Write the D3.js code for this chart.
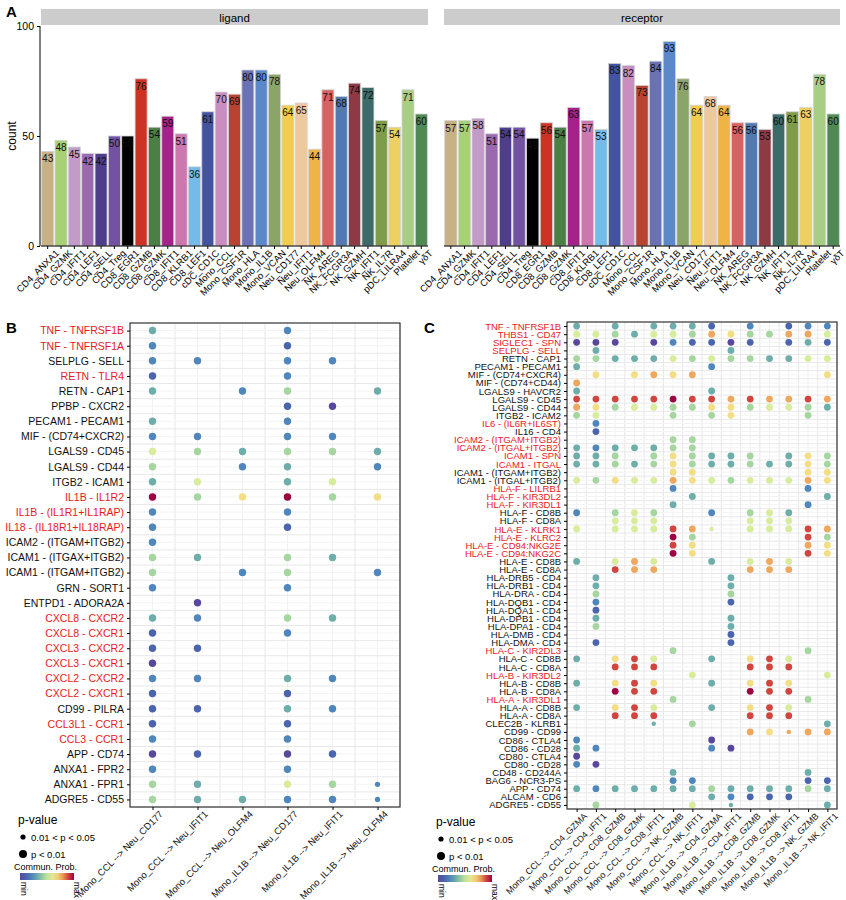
<html>
<head>
<script src="https://cdn.jsdelivr.net/npm/d3@7"></script>
<style>
  body { margin: 0; background: #fff; }
  text { font-family: "Liberation Sans", Arial, sans-serif; }
</style>
</head>
<body>
<script>
// ---------- data ----------
const cellTypes = ["CD4_ANXA1","CD4_GZMK","CD4_IFIT1","CD4_LEF1","CD4_SELL","CD4_Treg","CD8_EGR1","CD8_GZMB","CD8_GZMK","CD8_IFIT1","CD8_KLRB1","CD8_LEF1","cDC_CD1C","Mono_CCL","Mono_CSF1R","Mono_HLA","Mono_IL1B","Mono_VCAN","Neu_CD177","Neu_IFIT1","Neu_OLFM4","NK_AREG","NK_FCGR3A","NK_GZMH","NK_IFIT1","NK_IL7R","pDC_LILRA4","Platelet","γδT"];
const cellColors = ["#c8b185","#a8d175","#c39bc8","#9b6aae","#4e3d8a","#7353a1","#000000","#cc3325","#4a8045","#a5228a","#cc77ae","#74bbea","#4453a0","#c98ebf","#b94332","#6a72b5","#5a88c8","#8ba468","#f2cc4c","#efc99e","#eeb445","#d86262","#5479b0","#8d3a44","#3d6b6a","#7f9c4a","#ecd062","#a8cd84","#4f8a55"];
const ligandCounts = [43,48,45,42,42,50,50,76,54,59,51,36,61,70,69,80,80,78,64,65,44,71,68,74,72,57,54,71,60];
const receptorCounts = [57,57,58,51,54,54,49,56,54,63,57,53,83,82,73,84,93,76,64,68,64,56,56,53,60,61,63,78,60];
const countTicks = [0, 50, 100];

// dot codes: "." none, 0-9 = p<0.01 with prob level, a-j = 0.01<p<0.05 with level
const pairsB = ["Mono_CCL -> Neu_CD177","Mono_CCL -> Neu_IFIT1","Mono_CCL -> Neu_OLFM4","Mono_IL1B -> Neu_CD177","Mono_IL1B -> Neu_IFIT1","Mono_IL1B -> Neu_OLFM4"];
const rowsB = ["TNF - TNFRSF1B","TNF - TNFRSF1A","SELPLG - SELL","RETN - TLR4","RETN - CAP1","PPBP - CXCR2","PECAM1 - PECAM1","MIF - (CD74+CXCR2)","LGALS9 - CD45","LGALS9 - CD44","ITGB2 - ICAM1","IL1B - IL1R2","IL1B - (IL1R1+IL1RAP)","IL18 - (IL18R1+IL18RAP)","ICAM2 - (ITGAM+ITGB2)","ICAM1 - (ITGAX+ITGB2)","ICAM1 - (ITGAM+ITGB2)","GRN - SORT1","ENTPD1 - ADORA2A","CXCL8 - CXCR2","CXCL8 - CXCR1","CXCL3 - CXCR2","CXCL3 - CXCR1","CXCL2 - CXCR2","CXCL2 - CXCR1","CD99 - PILRA","CCL3L1 - CCR1","CCL3 - CCR1","APP - CD74","ANXA1 - FPR2","ANXA1 - FPR1","ADGRE5 - CD55"];
const redB = ["TNF - TNFRSF1B","TNF - TNFRSF1A","RETN - TLR4","IL1B - IL1R2","IL1B - (IL1R1+IL1RAP)","IL18 - (IL18R1+IL18RAP)","CXCL8 - CXCR2","CXCL8 - CXCR1","CXCL3 - CXCR2","CXCL3 - CXCR1","CXCL2 - CXCR2","CXCL2 - CXCR1","CCL3L1 - CCR1","CCL3 - CCR1"];
const dotsB = ["3..2..","2..1..","22.22.","1..2..","3.24.3","...10.","3..2..","22.22.","543443","4.23.2","35.35.","946946","2..2..","2..1..","2.....","43.43.","4.24.2","2..2..",".0....","32.43.","1..2..","11....","0.....","22.32.","1..1..","11.32.","1..1..","2..2..","01.01.","2..2..","43.54c","43322c"];

const pairsC = ["Mono_CCL -> CD4_GZMA","Mono_CCL -> CD4_IFIT1","Mono_CCL -> CD8_GZMB","Mono_CCL -> CD8_GZMK","Mono_CCL -> CD8_IFIT1","Mono_CCL -> NK_GZMB","Mono_CCL -> NK_IFIT1","Mono_IL1B -> CD4_GZMA","Mono_IL1B -> CD4_IFIT1","Mono_IL1B -> CD8_GZMB","Mono_IL1B -> CD8_GZMK","Mono_IL1B -> CD8_IFIT1","Mono_IL1B -> NK_GZMB","Mono_IL1B -> NK_IFIT1"];
const rowsC = ["TNF - TNFRSF1B","THBS1 - CD47","SIGLEC1 - SPN","SELPLG - SELL","RETN - CAP1","PECAM1 - PECAM1","MIF - (CD74+CXCR4)","MIF - (CD74+CD44)","LGALS9 - HAVCR2","LGALS9 - CD45","LGALS9 - CD44","ITGB2 - ICAM2","IL6 - (IL6R+IL6ST)","IL16 - CD4","ICAM2 - (ITGAM+ITGB2)","ICAM2 - (ITGAL+ITGB2)","ICAM1 - SPN","ICAM1 - ITGAL","ICAM1 - (ITGAM+ITGB2)","ICAM1 - (ITGAL+ITGB2)","HLA-F - LILRB1","HLA-F - KIR3DL2","HLA-F - KIR3DL1","HLA-F - CD8B","HLA-F - CD8A","HLA-E - KLRK1","HLA-E - KLRC2","HLA-E - CD94:NKG2E","HLA-E - CD94:NKG2C","HLA-E - CD8B","HLA-E - CD8A","HLA-DRB5 - CD4","HLA-DRB1 - CD4","HLA-DRA - CD4","HLA-DQB1 - CD4","HLA-DQA1 - CD4","HLA-DPB1 - CD4","HLA-DPA1 - CD4","HLA-DMB - CD4","HLA-DMA - CD4","HLA-C - KIR2DL3","HLA-C - CD8B","HLA-C - CD8A","HLA-B - KIR3DL2","HLA-B - CD8B","HLA-B - CD8A","HLA-A - KIR3DL1","HLA-A - CD8B","HLA-A - CD8A","CLEC2B - KLRB1","CD99 - CD99","CD86 - CTLA4","CD86 - CD28","CD80 - CTLA4","CD80 - CD28","CD48 - CD244A","BAG6 - NCR3-PS","APP - CD74","ALCAM - CD6","ADGRE5 - CD55"];
const redC = ["TNF - TNFRSF1B","THBS1 - CD47","SIGLEC1 - SPN","SELPLG - SELL","IL6 - (IL6R+IL6ST)","ICAM2 - (ITGAM+ITGB2)","ICAM2 - (ITGAL+ITGB2)","ICAM1 - SPN","ICAM1 - ITGAL","HLA-F - LILRB1","HLA-F - KIR3DL2","HLA-F - KIR3DL1","HLA-E - KLRK1","HLA-E - KLRC2","HLA-E - CD94:NKG2E","HLA-E - CD94:NKG2C","HLA-C - KIR2DL3","HLA-B - KIR3DL2","HLA-A - KIR3DL1"];
const dotsC = ["3.3.3331.2.122","55435547644775","000.021101.131",".3......3.....","44333545443355","3......2......",".6.6767......6","7.............","3......3......","88888988787787","76455446645543","45...4.46...4.",".2............",".1............",".....44.......","3233344.......","334.464334.364","33434643343364",".....66.....66","54655765455576",".....2......2.","......3......3",".....3......2.","2.454..2.453..","..555....555..","5.55587f.55587",".....94.....84",".....86.....76",".....96.....86","3.575..3.575..","..877....777..",".3......3.....",".3......3.....",".4......4.....",".2......1.....",".1............",".3......3.....",".4......3.....","........1.....",".1......1.....",".....4......4.","3.685..3.685..","..888....888..","......5......5","3.686..3.686..","..988....988..",".....4......4.","3.685..3.685..","..888....888..","....d.4......3",".........76h77","2......0......","32.....20.....","0.............","20............",".....3......3.",".....22.....11","32333334333343",".......32111..",".4....5.d....3"];

// ---------- setup ----------
const svg = d3.select("body").append("svg").attr("width", 846).attr("height", 900);
const probColor = d3.scaleLinear().domain(d3.range(10))
  .range(["#58479c","#4a64ae","#4f86bc","#6eaeaa","#a6d6a0","#d8ed9c","#f3de86","#eea75c","#d0463f","#9e0142"]);
const RED = "#e8191e";

svg.append("text").attr("x", 6).attr("y", 17).attr("font-size", 15).attr("font-weight", "bold").text("A");
svg.append("text").attr("x", 6).attr("y", 333).attr("font-size", 15).attr("font-weight", "bold").text("B");
svg.append("text").attr("x", 424).attr("y", 333).attr("font-size", 15).attr("font-weight", "bold").text("C");

// ---------- panel A ----------
const yA = d3.scaleLinear().domain([0, 100]).range([246, 26]);
const facets = [
  { name: "ligand", vals: ligandCounts, x0: 41, x1: 428 },
  { name: "receptor", vals: receptorCounts, x0: 444, x1: 840 }
];

svg.append("text").attr("transform", "translate(16," + yA(50) + ") rotate(-90)")
  .attr("text-anchor", "middle").attr("font-size", 12).text("count");

const yAxisA = svg.append("g").attr("transform", "translate(40,0)")
  .call(d3.axisLeft(yA).tickValues(countTicks).tickSize(3));
yAxisA.selectAll("text").attr("font-size", 10.5).attr("fill", "#000");
yAxisA.select(".domain").remove();
svg.append("line").attr("x1", 40).attr("x2", 40).attr("y1", 26).attr("y2", 246).attr("stroke", "#000");

facets.forEach(f => {
  const x = d3.scaleBand().domain(cellTypes).range([f.x0, f.x1]).paddingInner(0.1).paddingOuter(0.05);
  svg.append("rect").attr("x", f.x0).attr("y", 9).attr("width", f.x1 - f.x0).attr("height", 16).attr("fill", "#cccccc");
  svg.append("text").attr("x", (f.x0 + f.x1) / 2).attr("y", 21.5).attr("text-anchor", "middle").attr("font-size", 11.5).text(f.name);

  const g = svg.append("g");
  g.selectAll("rect").data(f.vals).enter().append("rect")
    .attr("x", (d, i) => x(cellTypes[i]))
    .attr("y", d => yA(d))
    .attr("width", x.bandwidth())
    .attr("height", d => yA(0) - yA(d))
    .attr("fill", (d, i) => cellColors[i])
    .attr("stroke", "#d4d4d4").attr("stroke-width", 0.8);
  g.selectAll("text").data(f.vals).enter().append("text")
    .attr("x", (d, i) => x(cellTypes[i]) + x.bandwidth() / 2)
    .attr("y", d => yA(d) + 11)
    .attr("text-anchor", "middle").attr("font-size", 10).attr("fill", "#111")
    .text(d => d);

  const ax = svg.append("g").attr("transform", "translate(0,246)")
    .call(d3.axisBottom(x).tickSize(3));
  ax.select(".domain").attr("d", "M" + f.x0 + ",0H" + f.x1);
  ax.selectAll("text").attr("font-size", 9.5).attr("fill", "#000")
    .attr("text-anchor", "end").attr("dx", 3).attr("dy", 8)
    .attr("transform", "rotate(-45)");
});

// ---------- dot plots ----------
function dotPlot(o) {
  const x = d3.scalePoint().domain(o.pairs).range([o.x0, o.x1]).padding(0.5);
  const y = d3.scalePoint().domain(o.rows).range([o.y0, o.y1]).padding(0.5);
  const sx = x.step(), sy = y.step();
  const g = svg.append("g");
  o.pairs.forEach(p => {
    g.append("line").attr("x1", x(p)).attr("x2", x(p)).attr("y1", o.y0).attr("y2", o.y1).attr("stroke", "#f2f2f2");
    g.append("line").attr("x1", x(p) + sx / 2).attr("x2", x(p) + sx / 2).attr("y1", o.y0).attr("y2", o.y1).attr("stroke", "#e6e6e6");
  });
  o.rows.forEach(r => {
    g.append("line").attr("y1", y(r)).attr("y2", y(r)).attr("x1", o.x0).attr("x2", o.x1).attr("stroke", "#f4f4f4");
    g.append("line").attr("y1", y(r) + sy / 2).attr("y2", y(r) + sy / 2).attr("x1", o.x0).attr("x2", o.x1).attr("stroke", "#e8e8e8");
  });
  const cells = [];
  o.dots.forEach((s, ri) => s.split("").forEach((c, ci) => {
    if (c === ".") return;
    const small = c >= "a";
    const lvl = small ? c.charCodeAt(0) - 97 : +c;
    cells.push({ r: o.rows[ri], p: o.pairs[ci], lvl, small });
  }));
  g.selectAll("circle").data(cells).enter().append("circle")
    .attr("cx", d => x(d.p)).attr("cy", d => y(d.r))
    .attr("r", d => d.small ? o.rs : o.rb)
    .attr("fill", d => probColor(d.lvl));
  g.append("rect").attr("x", o.x0).attr("y", o.y0).attr("width", o.x1 - o.x0).attr("height", o.y1 - o.y0)
    .attr("fill", "none").attr("stroke", "#333").attr("stroke-width", 1.2);

  const ay = svg.append("g").attr("transform", "translate(" + o.x0 + ",0)").call(d3.axisLeft(y).tickSize(3));
  ay.select(".domain").remove();
  ay.selectAll("text").attr("font-size", o.fy).attr("fill", d => o.red.includes(d) ? RED : "#111");
  const ax = svg.append("g").attr("transform", "translate(0," + o.y1 + ")").call(d3.axisBottom(x).tickSize(3));
  ax.select(".domain").remove();
  ax.selectAll("text").attr("font-size", o.fx).attr("fill", "#111")
    .attr("text-anchor", "end").attr("dx", 2).attr("dy", 7).attr("transform", "rotate(-45)")
    .text(d => d.replace("->", "-->"));

  // legend
  const L = svg.append("g").attr("transform", "translate(" + o.lx + "," + o.ly + ")");
  L.append("text").attr("x", 0).attr("y", 0).attr("font-size", 12).text("p-value");
  L.append("circle").attr("cx", 5).attr("cy", 13).attr("r", 2.6).attr("fill", "#000");
  L.append("text").attr("x", 13).attr("y", 16.5).attr("font-size", 9.5).text("0.01 < p < 0.05");
  L.append("circle").attr("cx", 5).attr("cy", 30).attr("r", 4).attr("fill", "#000");
  L.append("text").attr("x", 13).attr("y", 33.5).attr("font-size", 9.5).text("p < 0.01");
  L.append("text").attr("x", -4).attr("y", 46).attr("font-size", 9).text("Commun. Prob.");
  const gid = "grad" + o.lx;
  const grad = svg.append("defs").append("linearGradient").attr("id", gid);
  d3.range(0, 1.01, 0.1).forEach(t => grad.append("stop").attr("offset", t).attr("stop-color", probColor(t * 9)));
  L.append("rect").attr("x", 2).attr("y", 49).attr("width", 54).attr("height", 7).attr("fill", "url(#" + gid + ")");
  L.append("text").attr("transform", "translate(3,58) rotate(90)").attr("font-size", 8.5).text("min");
  L.append("text").attr("transform", "translate(56,58) rotate(90)").attr("font-size", 8.5).text("max");
}

dotPlot({ pairs: pairsB, rows: rowsB, red: redB, dots: dotsB, x0: 130, x1: 400, y0: 323, y1: 807, rb: 3.7, rs: 2.6, fy: 10.5, fx: 9.5, lx: 18, ly: 824 });
dotPlot({ pairs: pairsC, rows: rowsC, red: redC, dots: dotsC, x0: 567, x1: 837, y0: 322, y1: 809, rb: 3.4, rs: 2.2, fy: 9.5, fx: 9, lx: 436, ly: 826 });
</script>
</body>
</html>
